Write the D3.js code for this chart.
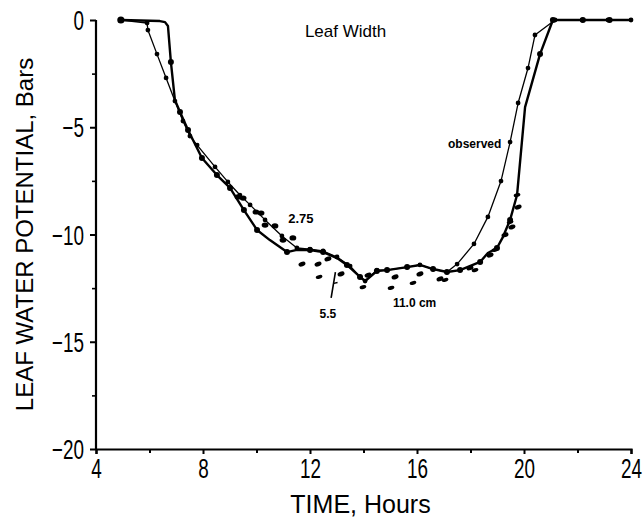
<!DOCTYPE html>
<html>
<head>
<meta charset="utf-8">
<script src="https://cdn.jsdelivr.net/npm/d3@7/dist/d3.min.js"></script>
<style>
  html, body { margin: 0; padding: 0; background: #fff; }
  svg { display: block; }
  .tick-label { font-family: "Liberation Sans", Arial, Helvetica, sans-serif; }
  .title { font-family: "Liberation Sans", Arial, Helvetica, sans-serif; }
</style>
</head>
<body>
<svg id="chart" width="643" height="517"></svg>
<script>
// ---------------- DATA ----------------
const xTickValues = [4, 8, 12, 16, 20, 24];
const xMinorTicks = [6, 10, 14, 18, 22];
const yTickValues = [0, -5, -10, -15, -20];
const yMinorTicks = [-2.5, -7.5, -12.5, -17.5];
const yTickLabels = ["0", "\u22125", "\u221210", "\u221215", "\u221220"];

// observed (thin line with dots): [hour, bars]
const observedTime = [4.93, 5.91, 5.94, 6.28, 6.62, 6.95, 7.25, 7.51, 7.78, 8.45, 8.93, 9.38, 9.76, 10.32, 10.95, 11.51, 12.0, 12.49, 13.01, 13.5, 13.87, 14.06, 14.5, 14.88, 15.63, 16.11, 16.6, 17.12, 17.5, 18.13, 18.65, 19.14, 19.48, 19.78, 20.15, 20.41, 21.16, 22.17, 23.14, 24.0];
const observedValue = [0, -0.14, -0.47, -1.59, -2.70, -3.78, -4.71, -5.41, -5.83, -6.85, -7.55, -8.16, -8.62, -9.32, -10.07, -10.63, -10.68, -10.77, -11.05, -11.47, -11.98, -12.17, -11.66, -11.66, -11.52, -11.42, -11.61, -11.75, -11.38, -10.44, -9.18, -7.51, -5.69, -3.87, -2.24, -0.70, 0, 0, 0, 0];

// simulated, 2.75 cm (thick line)
const modelTime = [4.93, 6.39, 6.58, 6.69, 6.80, 6.95, 7.14, 7.44, 7.96, 8.52, 9.01, 9.53, 10.02, 10.5, 11.14, 11.51, 12.0, 12.49, 13.01, 13.38, 13.87, 14.06, 14.5, 14.88, 15.63, 16.11, 16.6, 17.12, 17.61, 18.36, 18.65, 18.99, 19.21, 19.48, 19.74, 20.04, 20.6, 21.08, 24.0];
const modelValue = [0, -0.05, -0.10, -0.28, -1.96, -3.73, -4.29, -5.13, -6.43, -7.23, -7.83, -8.86, -9.79, -10.26, -10.82, -10.72, -10.72, -10.82, -11.10, -11.42, -11.98, -12.17, -11.70, -11.66, -11.52, -11.42, -11.61, -11.75, -11.66, -11.28, -10.86, -10.63, -10.12, -9.32, -8.16, -4.06, -1.59, 0, 0];
const modelDotTime = [4.93, 6.80, 7.14, 7.44, 7.96, 8.52, 9.01, 9.53, 10.02, 11.14, 12.0, 12.49, 13.38, 13.87, 14.5, 14.88, 15.63, 16.6, 17.12, 17.61, 18.36, 18.99, 19.48, 20.6, 21.08, 22.2, 23.2];
const modelDotValue = [0, -1.96, -4.29, -5.13, -6.43, -7.23, -7.83, -8.86, -9.79, -10.82, -10.72, -10.82, -11.42, -11.98, -11.70, -11.66, -11.52, -11.61, -11.75, -11.66, -11.28, -10.63, -9.32, -1.59, 0, 0, 0];

// simulated points drawn as dots / dashes
const w275Time = [9.31, 9.50, 9.98, 10.17, 10.32, 10.69, 10.99, 11.36];
const w275Value = [-8.25, -8.30, -8.95, -9.00, -9.56, -9.60, -10.26, -10.16];
const w55Time = [11.70, 12.30, 12.67, 13.16, 14.17, 15.18, 16.11, 16.86, 17.98, 18.73, 19.29, 19.55, 19.78];
const w55Value = [-11.38, -11.38, -11.14, -11.84, -11.89, -11.98, -11.84, -12.07, -11.56, -10.96, -10.02, -9.65, -8.72];
const w11Time = [12.34, 13.98, 15.03, 15.85, 17.05, 18.17, 18.92, 19.48, 19.74];
const w11Value = [-11.98, -12.45, -12.49, -12.26, -12.12, -11.66, -10.72, -9.42, -8.16];

// ---------------- CHART ----------------
const svg = d3.select("#chart");
const x = d3.scaleLinear().domain([4, 24]).range([96, 631]);
const y = d3.scaleLinear().domain([0, -20]).range([20, 449]);
const NARROW = 0.7;

const zip = (ts, vs) => ts.map((t, i) => ({t: t, v: vs[i]}));
const observed = zip(observedTime, observedValue);
const model = zip(modelTime, modelValue);
const modelDots = zip(modelDotTime, modelDotValue);
const w275 = zip(w275Time, w275Value);
const w55 = zip(w55Time, w55Value);
const w11 = zip(w11Time, w11Value);

// axes
const xAxis = d3.axisBottom(x).tickValues(xTickValues).tickSize(5).tickFormat(d3.format("d"));
const gx = svg.append("g").attr("transform", "translate(0,449)").call(xAxis);
gx.select(".domain").attr("stroke", "#000").attr("stroke-width", 2.2);
gx.selectAll(".tick line").attr("stroke", "#000").attr("stroke-width", 2);
gx.selectAll(".tick text").attr("class", "tick-label").attr("font-size", 27).attr("fill", "#000")
  .attr("y", 10).attr("dy", "0.71em").attr("transform", `scale(${NARROW},1)`);
svg.append("g").attr("transform", "translate(0,449)")
  .call(d3.axisBottom(x).tickValues(xMinorTicks).tickSize(4).tickFormat(""))
  .call(g => g.select(".domain").remove())
  .selectAll("line").attr("stroke", "#000").attr("stroke-width", 2);

const yAxis = d3.axisLeft(y).tickValues(yTickValues).tickSize(6).tickFormat((d, i) => yTickLabels[i]);
const gy = svg.append("g").attr("transform", "translate(96,0)").call(yAxis);
gy.select(".domain").attr("stroke", "#000").attr("stroke-width", 2.2).attr("d", `M0,${y(0)}V${y(-20)}`);
gy.selectAll(".tick line").attr("stroke", "#000").attr("stroke-width", 2);
gy.selectAll(".tick text").attr("class", "tick-label").attr("font-size", 27).attr("fill", "#000")
  .attr("x", -12 / NARROW).attr("dy", "0.36em").attr("transform", `scale(${NARROW},1)`);
svg.append("g").attr("transform", "translate(96,0)")
  .call(d3.axisLeft(y).tickValues(yMinorTicks).tickSize(4).tickFormat(""))
  .call(g => g.select(".domain").remove())
  .selectAll("line").attr("stroke", "#000").attr("stroke-width", 1.6);

// axis titles
svg.append("text").attr("class", "title")
  .attr("x", (x(4) + x(24)) / 2 - 3).attr("y", 513)
  .attr("text-anchor", "middle").attr("font-size", 25).attr("fill", "#000")
  .text("TIME, Hours");
svg.append("text").attr("class", "title")
  .attr("transform", `translate(33,${(y(0) + y(-20)) / 2}) rotate(-90)`)
  .attr("text-anchor", "middle").attr("font-size", 24).attr("fill", "#000")
  .text("LEAF WATER POTENTIAL, Bars");

// lines
const straight = d3.line().x(d => x(d.t)).y(d => y(d.v)).curve(d3.curveLinear);
svg.append("path").datum(model).attr("d", straight)
  .attr("fill", "none").attr("stroke", "#000").attr("stroke-width", 2.4).attr("stroke-linejoin", "round");
svg.append("path").datum(observed).attr("d", straight)
  .attr("fill", "none").attr("stroke", "#000").attr("stroke-width", 1.3).attr("stroke-linejoin", "round");

// markers
svg.append("g").selectAll("circle").data(modelDots).join("circle")
  .attr("cx", d => x(d.t)).attr("cy", d => y(d.v)).attr("r", 3).attr("fill", "#000");
svg.append("g").selectAll("circle").data(observed.slice(1)).join("circle")
  .attr("cx", d => x(d.t)).attr("cy", d => y(d.v)).attr("r", 2.4).attr("fill", "#000");
svg.append("circle").attr("cx", x(observed[0].t)).attr("cy", y(observed[0].v)).attr("r", 3.6).attr("fill", "#000");

svg.append("g").selectAll("ellipse").data(w275).join("ellipse")
  .attr("cx", d => x(d.t)).attr("cy", d => y(d.v)).attr("rx", 3.4).attr("ry", 2.6).attr("fill", "#000");
svg.append("g").selectAll("ellipse").data(w55).join("ellipse")
  .attr("cx", d => x(d.t)).attr("cy", d => y(d.v)).attr("rx", 3.6).attr("ry", 2.3)
  .attr("transform", d => `rotate(-20,${x(d.t)},${y(d.v)})`).attr("fill", "#000");
svg.append("g").selectAll("ellipse").data(w11).join("ellipse")
  .attr("cx", d => x(d.t)).attr("cy", d => y(d.v)).attr("rx", 3.4).attr("ry", 1.9)
  .attr("transform", d => `rotate(-15,${x(d.t)},${y(d.v)})`).attr("fill", "#000");

// annotations
const ann = (t, v, txt, size, anchor, weight) => svg.append("text").attr("class", "title")
  .attr("x", x(t)).attr("y", y(v)).attr("font-size", size).attr("text-anchor", anchor || "start")
  .attr("font-weight", weight || "normal").attr("fill", "#000").text(txt);
ann(11.81, -0.79, "Leaf Width", 17, "start");
ann(11.66, -9.46, "2.75", 13, "middle", "bold");
ann(12.67, -13.89, "5.5", 12, "middle", "bold");
ann(15.10, -13.38, "11.0  cm", 12, "start", "bold");
ann(17.16, -5.97, "observed", 12, "start", "bold");

// leader for 5.5
svg.append("line").attr("x1", x(12.79)).attr("y1", y(-12.96)).attr("x2", x(12.95)).attr("y2", y(-11.75))
  .attr("stroke", "#000").attr("stroke-width", 1.6);
svg.append("line").attr("x1", x(12.89)).attr("y1", y(-12.28)).attr("x2", x(13.03)).attr("y2", y(-12.24))
  .attr("stroke", "#000").attr("stroke-width", 1.4);
</script>
</body>
</html>
